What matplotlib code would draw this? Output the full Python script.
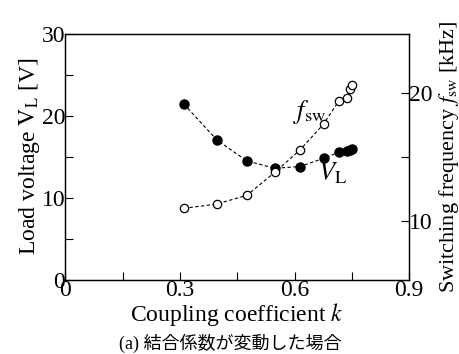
import numpy as np
import matplotlib
matplotlib.use("Agg")
import matplotlib.pyplot as plt
from matplotlib.ticker import MultipleLocator, FixedLocator

plt.rcParams['font.family'] = ['Liberation Serif', 'Noto Sans CJK JP']
plt.rcParams['mathtext.fontset'] = 'stix'

#__ Data ___________________________________________
k = [0.310, 0.396, 0.475, 0.549, 0.614, 0.676, 0.716, 0.737, 0.745, 0.751]
V_L = [21.43, 17.07, 14.48, 13.59, 13.80, 14.80, 15.54, 15.73, 15.82, 15.98]  # [V]
f_sw = [10.97, 11.31, 11.99, 13.82, 15.55, 17.59, 19.42, 19.66, 20.36, 20.63]  # [kHz]

fig = plt.figure(figsize=(4.6, 3.54), dpi=100)
ax = fig.add_axes([0.142, 0.2099, 0.7476, 0.6949])
ax2 = ax.twinx()

ax.plot(k, V_L, color='black', lw=0.8, ls=(0, (3, 2.2)),
        marker='o', ms=6.5, mfc='black', mec='black', zorder=3)
ax2.plot(k, f_sw, color='black', lw=0.8, ls=(0, (3, 2.2)),
         marker='o', ms=6, mfc='white', mec='black', mew=0.9, zorder=3)

ax.set_xlim(0, 0.9)
ax.set_ylim(0, 30)
ax2.set_ylim(5.37, 24.68)

ax.xaxis.set_major_locator(FixedLocator([0, 0.3, 0.6, 0.9]))
ax.xaxis.set_minor_locator(FixedLocator([0.15, 0.45, 0.75]))
ax.set_xticklabels(['0', '0.3', '0.6', '0.9'])
ax.yaxis.set_major_locator(MultipleLocator(10))
ax.yaxis.set_minor_locator(MultipleLocator(5))
ax2.yaxis.set_major_locator(FixedLocator([10, 20]))
ax2.yaxis.set_minor_locator(FixedLocator([15]))

for a in (ax, ax2):
    a.tick_params(which='both', direction='in', labelsize=17, pad=0)
    a.tick_params(which='major', length=6, width=0.8)
    a.tick_params(which='minor', length=6, width=0.8)
    a.tick_params(axis='x', which='both', top=False)
    for s in a.spines.values():
        s.set_linewidth(0.9)
ax.tick_params(axis='y', which='both', right=False)
ax2.tick_params(axis='y', which='both', left=False)

ax.set_xlabel(r'Coupling coefficient $\mathit{k}$', fontsize=17, labelpad=0)
ax.set_ylabel(r'Load voltage $\mathrm{V}_{\mathrm{L}}$ [V]', fontsize=17, labelpad=0)
ax2.set_ylabel(r'Switching frequency $\mathit{f}_{\mathrm{sw}}$ [kHz]', fontsize=16,
               labelpad=3)

ax.text(0.64, 20.4, r'$\mathit{f}_{\mathrm{sw}}$', fontsize=19, ha='center', va='center')
ax.text(0.70, 13.0, r'$\mathit{V}_{\mathrm{L}}$', fontsize=19, ha='center', va='center')

fig.text(0.5, 0.03, '(a) 結合係数が変動した場合', fontsize=13, ha='center', va='center')

fig.savefig('out.png', dpi=100)
